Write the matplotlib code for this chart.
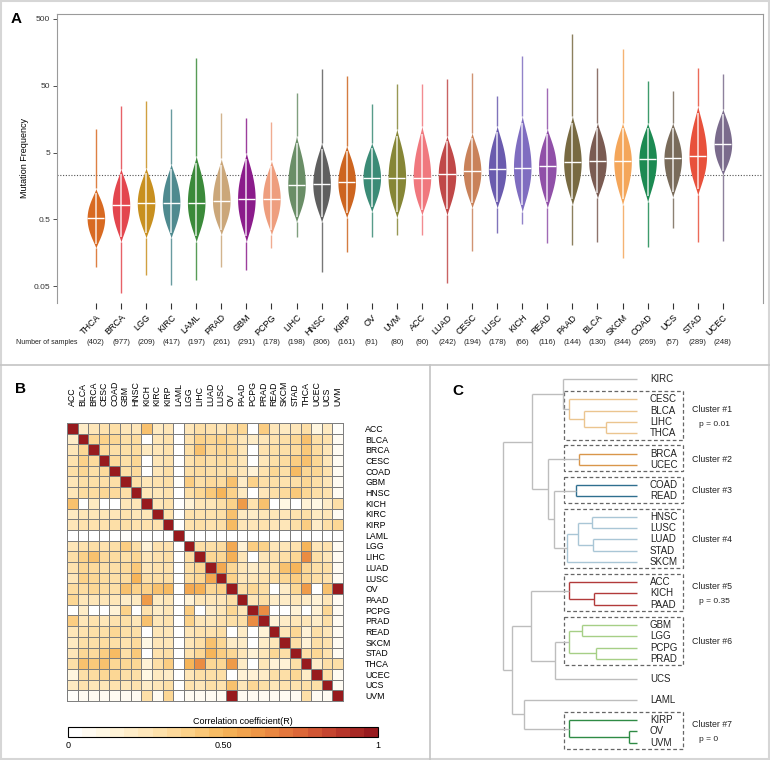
import numpy as np
import matplotlib
matplotlib.use("Agg")
import matplotlib.pyplot as plt
from matplotlib.colors import LinearSegmentedColormap, Normalize
from matplotlib.patches import Rectangle
from matplotlib.lines import Line2D
import matplotlib.transforms as mtransforms
from matplotlib.cm import ScalarMappable

plt.rcParams['font.family'] = ['Liberation Sans', 'DejaVu Sans']

# ---------------- Panel A data ----------------
cancers_a = ["THCA", "BRCA", "LGG", "KIRC", "LAML", "PRAD", "GBM", "PCPG", "LIHC", "HNSC",
             "KIRP", "OV", "UVM", "ACC", "LUAD", "CESC", "LUSC", "KICH", "READ", "PAAD",
             "BLCA", "SKCM", "COAD", "UCS", "STAD", "UCEC"]
n_samples = [402, 977, 209, 417, 197, 261, 291, 178, 198, 306, 161, 91, 80, 90, 242,
             194, 178, 66, 116, 144, 130, 344, 269, 57, 289, 248]
tail_low = [0.096, 0.040, 0.073, 0.052, 0.062, 0.096, 0.086, 0.186, 0.27, 0.081,
            0.16, 0.27, 0.29, 0.29, 0.055, 0.17, 0.31, 0.42, 0.22, 0.205,
            0.23, 0.13, 0.19, 0.37, 0.23, 0.24]
body_low = [0.184, 0.227, 0.26, 0.26, 0.227, 0.29, 0.227, 0.29, 0.45, 0.45,
            0.52, 0.64, 0.52, 0.57, 0.57, 0.73, 0.73, 0.64, 0.73, 0.81,
            1.03, 0.81, 0.90, 1.06, 1.14, 2.27]
medians = [0.52, 0.81, 0.87, 0.89, 0.89, 0.93, 1.02, 1.02, 1.61, 1.66,
           1.78, 2.1, 2.1, 2.1, 2.35, 2.6, 2.79, 2.97, 3.09, 3.55,
           3.67, 3.67, 3.93, 4.07, 4.5, 6.6]
body_high = [1.45, 2.88, 2.98, 3.42, 4.5, 4.07, 5.0, 3.8, 8.97, 7.05,
             6.36, 7.05, 11.4, 12.6, 8.97, 9.95, 12.6, 17.8, 11.4, 17.8,
             14.0, 14.0, 14.0, 14.0, 25.1, 22.7]
tail_high = [11.4, 25, 30, 22.7, 131, 19.8, 16.6, 14.1, 39, 89,
             70, 27, 53, 53, 63, 78, 35.6, 140, 46.7, 299,
             93, 178, 59, 42, 93, 75]
overall_median = 2.27
violin_colors = ["#D86A22", "#E3464E", "#C89020", "#4F8A8F", "#3B8A3A", "#CBA77A", "#8B1C8B",
                 "#EE9E7E", "#6A8E67", "#5F5F5F", "#CD6520", "#3B8B76", "#868636", "#F0787E",
                 "#C04848", "#C9825A", "#6A5BAE", "#7F6DC0", "#9050A8", "#786A42", "#7A5B52",
                 "#F4A65A", "#1C8A52", "#796B5A", "#E8513C", "#7A6B8C"]
yticks_a = [0.05, 0.5, 5, 50, 500]
ytick_labels_a = ["0.05", "0.5", "5", "50", "500"]

# ---------------- Panel B data ----------------
cancers_b = ["ACC", "BLCA", "BRCA", "CESC", "COAD", "GBM", "HNSC", "KICH", "KIRC", "KIRP",
             "LAML", "LGG", "LIHC", "LUAD", "LUSC", "OV", "PAAD", "PCPG", "PRAD", "READ",
             "SKCM", "STAD", "THCA", "UCEC", "UCS", "UVM"]
corr_rows = [
    [1, .2, .25, .28, .3, .25, .25, .45, .22, .25, 0, .25, .3, .28, .25, .32, .35, 0, .4, .25, .22, .25, .3, .12, .22, .02],
    [.2, 1, .35, .38, .35, .3, .32, 0, .25, .28, 0, .28, .38, .35, .38, .32, .25, .2, .25, .28, .3, .35, .45, .3, .28, .05],
    [.25, .35, 1, .33, .3, .3, .32, .22, .25, .28, 0, .3, .45, .33, .35, .35, .25, 0, .28, .3, .3, .33, .42, .32, .25, .05],
    [.28, .38, .33, 1, .33, .3, .35, 0, .25, .28, 0, .28, .33, .3, .32, .32, .25, 0, .25, .3, .32, .4, .45, .35, .25, .05],
    [.3, .35, .3, .33, 1, .3, .33, 0, .25, .3, 0, .3, .32, .3, .3, .3, .25, .15, .28, .35, .3, .48, .35, .35, .28, .05],
    [.25, .3, .3, .3, .3, 1, .3, .25, .28, .3, .02, .4, .3, .33, .32, .45, .2, .38, .3, .3, .28, .3, .35, .3, .25, .05],
    [.25, .32, .32, .35, .33, .3, 1, .25, .25, .28, 0, .3, .35, .42, .5, .38, .22, 0, .25, .3, .33, .42, .35, .3, .28, .05],
    [.45, 0, .22, 0, 0, .25, .25, 1, .25, .28, 0, .15, .25, .25, .3, .38, .6, .28, .45, 0, .1, 0, .15, .1, .2, .3],
    [.22, .25, .25, .25, .25, .28, .25, .25, 1, .28, 0, .28, .28, .28, .3, .45, .22, .2, .25, .25, .25, .28, .3, .22, .25, .05],
    [.25, .28, .28, .28, .3, .3, .28, .28, .28, 1, 0, .28, .3, .28, .3, .48, .25, .25, .28, .25, .25, .3, .4, .2, .3, .35],
    [0, 0, 0, 0, 0, .02, 0, 0, 0, 0, 1, 0, 0, 0, 0, 0, 0, 0, 0, 0, 0, 0, 0, 0, 0, 0],
    [.25, .28, .3, .28, .3, .4, .3, .15, .28, .28, 0, 1, .3, .3, .32, .55, .15, .4, .38, .25, .25, .28, .5, .25, .28, .05],
    [.3, .38, .45, .33, .32, .3, .35, .25, .28, .3, 0, .3, 1, .35, .35, .52, .25, 0, .25, .28, .3, .35, .65, .3, .25, .05],
    [.28, .35, .33, .3, .3, .33, .42, .25, .28, .28, 0, .3, .35, 1, .55, .35, .25, .2, .25, .28, .45, .5, .35, .3, .3, .05],
    [.25, .38, .35, .32, .3, .32, .5, .3, .3, .3, 0, .32, .35, .55, 1, .38, .25, .25, .28, .3, .35, .4, .35, .3, .28, .05],
    [.32, .32, .35, .32, .3, .45, .38, .38, .45, .48, 0, .55, .52, .35, .38, 1, .3, .35, .3, 0, .2, .35, .6, 0, .45, 1],
    [.35, .25, .25, .25, .25, .2, .22, .6, .22, .25, 0, .15, .25, .25, .25, .3, 1, .25, .3, .2, .2, .25, .2, .15, .25, .05],
    [0, .2, 0, 0, .15, .38, 0, .28, .2, .25, 0, .4, 0, .2, .25, .35, .25, 1, .65, 0, 0, .15, 0, .15, .35, .05],
    [.4, .25, .28, .25, .28, .3, .25, .45, .25, .28, 0, .38, .25, .25, .28, .3, .3, .65, 1, .15, .2, .25, .25, .2, .3, .05],
    [.25, .28, .3, .3, .35, .3, .3, 0, .25, .25, 0, .25, .28, .28, .3, 0, .2, 0, .15, 1, .25, .35, .15, .3, .25, .05],
    [.22, .3, .3, .32, .3, .28, .33, .1, .25, .25, 0, .25, .3, .45, .35, .2, .2, 0, .2, .25, 1, .3, .15, .3, .28, .05],
    [.25, .35, .33, .4, .48, .3, .42, 0, .28, .3, 0, .28, .35, .5, .4, .35, .25, .15, .25, .35, .3, 1, .3, .35, .28, .05],
    [.3, .45, .42, .45, .35, .35, .35, .15, .3, .4, 0, .5, .65, .35, .35, .6, .2, 0, .25, .15, .15, .3, 1, .2, .3, .3],
    [.12, .3, .32, .35, .35, .3, .3, .1, .22, .2, 0, .25, .3, .3, .3, 0, .15, .15, .2, .3, .3, .35, .2, 1, .3, .05],
    [.22, .28, .25, .25, .28, .25, .28, .2, .25, .3, 0, .28, .25, .3, .28, .45, .25, .35, .3, .25, .28, .28, .3, .3, 1, .05],
    [.02, .05, .05, .05, .05, .05, .05, .3, .05, .35, 0, .05, .05, .05, .05, 1, .05, .05, .05, .05, .05, .05, .3, .05, .05, 1],
]
cbar_ticks = [0, 0.5, 1]
cbar_ticklabels = ["0", "0.50", "1"]

# ---------------- Panel C data ----------------
leaf_order = ["KIRC", "CESC", "BLCA", "LIHC", "THCA", "BRCA", "UCEC", "COAD", "READ", "HNSC",
              "LUSC", "LUAD", "STAD", "SKCM", "ACC", "KICH", "PAAD", "GBM", "LGG", "PCPG",
              "PRAD", "UCS", "LAML", "KIRP", "OV", "UVM"]
gap_after = ["KIRC", "THCA", "UCEC", "READ", "SKCM", "PAAD", "PRAD", "UCS", "LAML"]
merges = [
    ("LIHC", "THCA", 3.1), ("BLCA", "m0", 5.3), ("CESC", "m1", 6.8), ("KIRC", "m2", 7.4),
    ("BRCA", "UCEC", 5.8), ("COAD", "READ", 6.1), ("HNSC", "LUSC", 4.5), ("LUAD", "STAD", 4.4),
    ("m6", "m7", 5.9), ("m8", "SKCM", 7.0), ("m5", "m9", 8.3), ("m4", "m10", 8.9),
    ("m3", "m11", 10.5), ("KICH", "PAAD", 4.3), ("ACC", "m13", 6.8), ("GBM", "LGG", 5.5),
    ("PCPG", "PRAD", 4.1), ("m15", "m16", 6.8), ("m17", "UCS", 8.2), ("m14", "m18", 10.6),
    ("OV", "UVM", 0.8), ("KIRP", "m20", 6.8), ("LAML", "m21", 11.3), ("m19", "m22", 12.5),
    ("m12", "m23", 13.4),
]
clusters = {
    1: ["CESC", "BLCA", "LIHC", "THCA"],
    2: ["BRCA", "UCEC"],
    3: ["COAD", "READ"],
    4: ["HNSC", "LUSC", "LUAD", "STAD", "SKCM"],
    5: ["ACC", "KICH", "PAAD"],
    6: ["GBM", "LGG", "PCPG", "PRAD"],
    7: ["KIRP", "OV", "UVM"],
}
cluster_pvals = {1: "p = 0.01", 5: "p = 0.35", 7: "p = 0"}
cluster_colors = {1: "#EBC58F", 2: "#D9964A", 3: "#2F6F8F", 4: "#A9C6D6",
                  5: "#B23A3A", 6: "#A6CF86", 7: "#2E8B45"}

# ================= Figure =================
W, H = 770, 760
fig = plt.figure(figsize=(W / 100, H / 100), dpi=100)


def fx(px):
    return px / W


def fy(py):
    return 1 - py / H


# ---------- Panel A ----------
axA = fig.add_axes([fx(57), fy(303), fx(763 - 57), (303 - 14) / H])
axA.set_yscale("log")
axA.set_ylim(0.0279, 593)
axA.set_xlim(-1.55, 26.6)
axA.axhline(overall_median, color="#555555", ls=(0, (1, 1.5)), lw=0.8, zorder=1)

hw = 0.35
for i, name in enumerate(cancers_a):
    c = violin_colors[i]
    lm = np.log10(medians[i])
    llo = np.log10(body_low[i])
    lhi = np.log10(body_high[i])
    u_low = np.linspace(llo, lm, 60)
    t_low = (lm - u_low) / (lm - llo)
    u_high = np.linspace(lm, lhi, 60)[1:]
    t_high = (u_high - lm) / (lhi - lm)
    u = np.concatenate([u_low, u_high])
    t = np.concatenate([t_low, t_high])
    w = hw * np.clip(1 - t ** 2.0, 0, 1) ** 1.3
    yy = 10 ** u
    axA.vlines(i, tail_low[i], body_low[i], color=c, lw=1.0, zorder=2, alpha=0.85)
    axA.vlines(i, body_high[i], tail_high[i], color=c, lw=1.0, zorder=2, alpha=0.85)
    axA.fill_betweenx(yy, i - w, i + w, color=c, lw=0, zorder=3)
    lo_c = 10 ** (lm - 0.85 * (lm - llo))
    hi_c = 10 ** (lm + 0.85 * (lhi - lm))
    axA.vlines(i, lo_c, hi_c, color="white", lw=1.1, zorder=4, alpha=0.85)
    axA.hlines(medians[i], i - hw * 0.98, i + hw * 0.98, color="white", lw=1.0, zorder=5)

axA.set_yticks(yticks_a)
axA.set_yticklabels(ytick_labels_a)
axA.yaxis.set_minor_locator(matplotlib.ticker.NullLocator())
axA.tick_params(axis="y", labelsize=6, colors="#333333", length=3, width=0.6, pad=2)
axA.set_xticks(range(len(cancers_a)))
axA.set_xticklabels(cancers_a, rotation=45, ha="right", rotation_mode="anchor", fontsize=6.5)
axA.tick_params(axis="x", length=4, width=0.8, colors="#333333", pad=3)
for lab in axA.get_xticklabels():
    lab.set_color("black")
for sp in ["left", "top", "right"]:
    axA.spines[sp].set_color("#9a9a9a")
    axA.spines[sp].set_linewidth(0.8)
axA.spines["bottom"].set_visible(False)
axA.set_ylabel("Mutation Frequency", fontsize=6.5, labelpad=3)

trA = mtransforms.blended_transform_factory(axA.transData, fig.transFigure)
for i, n in enumerate(n_samples):
    axA.text(i, fy(343), f"({n})", transform=trA, ha="center", va="center", fontsize=5.5, color="#222222")
fig.text(fx(16), fy(343), "Number of samples", ha="left", va="center", fontsize=5, color="#222222")

# ---------- Panel B ----------
cmap = LinearSegmentedColormap.from_list(
    "corr", [(0.0, "#FFFFFF"), (0.12, "#FFF6DE"), (0.25, "#FEE6B8"), (0.38, "#FCD28A"),
             (0.5, "#F6B65A"), (0.62, "#EE9646"), (0.75, "#DF6B39"), (0.87, "#C2402F"),
             (1.0, "#971A1E")])
corr = np.array(corr_rows, dtype=float)
axB = fig.add_axes([fx(67), fy(701), fx(343 - 67), (701 - 423) / H])
axB.pcolormesh(corr, cmap=cmap, vmin=0, vmax=1, edgecolors="#7d7d7d", linewidth=0.7)
axB.set_xlim(0, len(cancers_b))
axB.set_ylim(len(cancers_b), 0)
axB.set_xticks(np.arange(len(cancers_b)) + 0.5)
axB.set_xticklabels(cancers_b, rotation=90, fontsize=6.3)
axB.set_yticks(np.arange(len(cancers_b)) + 0.5)
axB.set_yticklabels(cancers_b, fontsize=6.3)
axB.xaxis.tick_top()
axB.yaxis.tick_right()
axB.tick_params(axis="x", length=0, pad=12)
axB.tick_params(axis="y", length=0, pad=16)
for lab in axB.get_yticklabels():
    lab.set_ha("left")
for sp in axB.spines.values():
    sp.set_color("#7d7d7d")
    sp.set_linewidth(0.7)

cax = fig.add_axes([fx(68), fy(737), fx(378 - 68), 10 / H])
sm = ScalarMappable(norm=Normalize(0, 1), cmap=cmap.resampled(22))
cb = fig.colorbar(sm, cax=cax, orientation="horizontal")
cb.set_ticks(cbar_ticks)
cb.set_ticklabels(cbar_ticklabels)
cax.tick_params(length=0, labelsize=6.5, pad=3)
cb.outline.set_linewidth(0.8)
cb.outline.set_edgecolor("black")
fig.text(fx(243), fy(721), "Correlation coefficient(R)", ha="center", va="center", fontsize=6.5)

# ---------- Panel C ----------
axC = fig.add_axes([fx(430), 0, fx(340), 390 / H])
axC.set_xlim(20.7, -13.3)
axC.set_ylim(34.02, -0.80)
axC.axis("off")

pos = {}
p = 0.0
for name in leaf_order:
    pos[name] = p
    p += 1 + (0.83 if name in gap_after else 0)
height = {name: 0.0 for name in leaf_order}
members = {name: {name} for name in leaf_order}
leaf_cluster = {}
for k, mem in clusters.items():
    for m in mem:
        leaf_cluster[m] = k


def node_color(mset):
    ks = {leaf_cluster.get(m) for m in mset}
    if len(ks) == 1 and None not in ks:
        return cluster_colors[ks.pop()]
    return "#BDBDBD"


for j, (a, b, h) in enumerate(merges):
    nid = f"m{j}"
    mset = members[a] | members[b]
    col = node_color(mset)
    axC.plot([height[a], h], [pos[a], pos[a]], color=col, lw=1.0, solid_capstyle="butt")
    axC.plot([height[b], h], [pos[b], pos[b]], color=col, lw=1.0, solid_capstyle="butt")
    axC.plot([h, h], [pos[a], pos[b]], color=col, lw=1.0, solid_capstyle="butt")
    pos[nid] = (pos[a] + pos[b]) / 2
    height[nid] = h
    members[nid] = mset

for name in leaf_order:
    axC.text(-1.3, pos[name], name, ha="left", va="center", fontsize=7, color="#222222")

for k, mem in clusters.items():
    ys = [pos[m] for m in mem]
    top, bot = min(ys) - 0.75, max(ys) + 0.6
    axC.add_patch(Rectangle((7.3, top), -4.6 - 7.3, bot - top, fill=False,
                            ec="#666666", lw=0.9, ls=(0, (3, 2))))
    mid = (min(ys) + max(ys)) / 2
    if k in cluster_pvals:
        axC.text(-5.5, mid - 0.6, f"Cluster #{k}", ha="left", va="center", fontsize=6.3, color="#222222")
        axC.text(-6.2, mid + 0.7, cluster_pvals[k], ha="left", va="center", fontsize=6.0, color="#222222")
    else:
        axC.text(-5.5, mid, f"Cluster #{k}", ha="left", va="center", fontsize=6.3, color="#222222")

# ---------- Panel labels and separators ----------
fig.text(fx(16), fy(19), "A", fontsize=11, fontweight="bold", ha="center", va="center")
fig.text(fx(21), fy(389), "B", fontsize=11, fontweight="bold", ha="center", va="center")
fig.text(fx(458), fy(391), "C", fontsize=11, fontweight="bold", ha="center", va="center")
sep = "#C4C4C4"
fig.add_artist(Line2D([0, 1], [fy(365), fy(365)], transform=fig.transFigure, color=sep, lw=1.2))
fig.add_artist(Line2D([fx(430), fx(430)], [0, fy(365)], transform=fig.transFigure, color=sep, lw=1.2))
fig.add_artist(Rectangle((0.001, 0.001), 0.998, 0.998, transform=fig.transFigure,
                         fill=False, ec="#D6D6D6", lw=1.5))

fig.savefig("out.png", dpi=100)
